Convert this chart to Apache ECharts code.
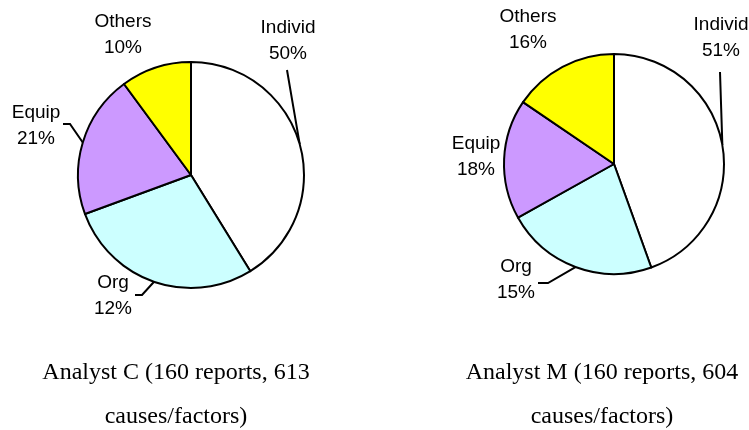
<!DOCTYPE html>
<html lang="en">
<head>
<meta charset="UTF-8">
<title>Causes / factors by analyst</title>
<script src="https://cdn.jsdelivr.net/npm/echarts@6/dist/echarts.min.js"></script>
<style>
    html, body { margin: 0; padding: 0; background: #fff; }
    #chart { width: 749px; height: 430px; }
</style>
</head>
<body>
<div id="chart"></div>
<script>
    var categories = ['Individ', 'Org', 'Equip', 'Others'];
    // slice sizes as they are drawn in the picture
    var sliceC = [41.2, 28.2, 20.5, 10.1];
    var sliceM = [44.5, 22.4, 17.6, 15.5];
    // percentages printed on the labels
    var labelC = [50, 12, 21, 10];
    var labelM = [51, 15, 18, 16];
    var captionC = 'Analyst C (160 reports, 613\ncauses/factors)';
    var captionM = 'Analyst M (160 reports, 604\ncauses/factors)';

    var sliceColors = ['#ffffff', '#ccffff', '#cc99ff', '#ffff00'];

    // where each label block sits (its centre); end/bend of the leader line are relative to it
    var spotsC = [
        {x: 288, y: 41, end: [-1, 29]},
        {x: 113, y: 296, end: [22, -1], bend: [29, -1]},
        {x: 36, y: 126, end: [27, -2], bend: [34, -2]},
        {x: 123, y: 35}
    ];
    var spotsM = [
        {x: 721, y: 38, end: [-1, 34]},
        {x: 516, y: 280, end: [22, 3], bend: [32, 3]},
        {x: 476, y: 157},
        {x: 528, y: 30}
    ];

    function buildData(values, spots) {
        return categories.map(function (name, i) {
            return {
                name: name,
                value: values[i],
                itemStyle: {color: sliceColors[i]},
                labelLine: {show: !!spots[i].end}
            };
        });
    }

    function placeLabels(spots) {
        return function (params) {
            var s = spots[params.dataIndex];
            var out = {x: s.x, y: s.y, align: 'center', verticalAlign: 'middle'};
            if (s.end && params.labelLinePoints) {
                var p0 = params.labelLinePoints[0];
                var p2 = [s.x + s.end[0], s.y + s.end[1]];
                var p1 = s.bend ? [s.x + s.bend[0], s.y + s.bend[1]]
                    : [(p0[0] + p2[0]) / 2, (p0[1] + p2[1]) / 2];
                out.labelLinePoints = [p0, p1, p2];
            }
            return out;
        };
    }

    function pieSeries(values, labels, spots, center, radius) {
        return {
            type: 'pie',
            center: center,
            radius: radius,
            startAngle: 90,
            clockwise: true,
            silent: true,
            avoidLabelOverlap: false,
            data: buildData(values, spots),
            itemStyle: {borderColor: '#000', borderWidth: 2},
            label: {
                show: true,
                position: 'outside',
                overflow: 'none',
                color: '#000',
                fontFamily: '"Liberation Sans", Arial, sans-serif',
                fontSize: 19,
                lineHeight: 26,
                formatter: function (p) {
                    return p.name + '\n' + labels[p.dataIndex] + '%';
                }
            },
            labelLine: {show: true, smooth: false, lineStyle: {color: '#000', width: 2}},
            labelLayout: placeLabels(spots),
            emphasis: {disabled: true}
        };
    }

    function caption(text, x) {
        return {
            type: 'text',
            x: x,
            y: 351,
            silent: true,
            style: {
                text: text,
                align: 'center',
                verticalAlign: 'top',
                font: '24px "Liberation Serif", "Times New Roman", serif',
                lineHeight: 44,
                fill: '#000'
            }
        };
    }

    var chart = echarts.init(document.getElementById('chart'));
    chart.setOption({
        animation: false,
        backgroundColor: '#fff',
        series: [
            pieSeries(sliceC, labelC, spotsC, [191, 175], 113),
            pieSeries(sliceM, labelM, spotsM, [614, 164], 110)
        ],
        graphic: [caption(captionC, 176), caption(captionM, 602)]
    });
</script>
</body>
</html>
